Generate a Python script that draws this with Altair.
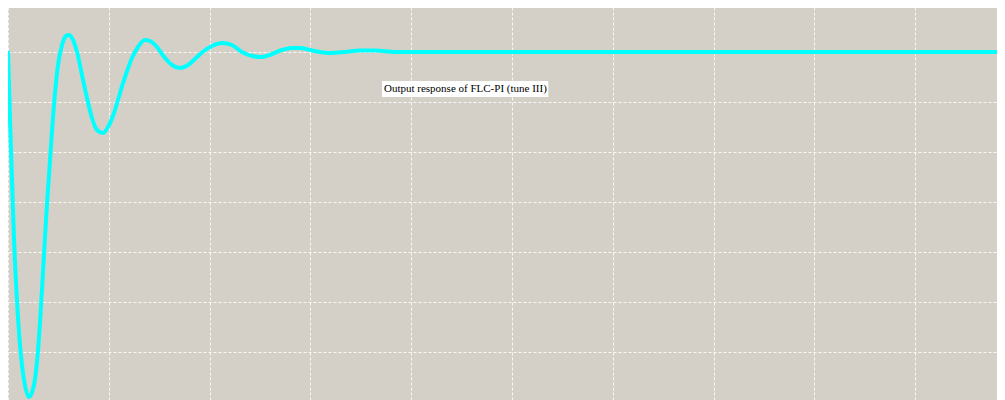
import altair as alt
import pandas as pd

# Output response (time in grid units, output value)
t = [0.0, 0.02, 0.04, 0.06, 0.089, 0.119, 0.159, 0.208, 0.258, 0.298, 0.337, 0.377,
     0.417, 0.456, 0.496, 0.536, 0.575, 0.605, 0.635, 0.685, 0.734, 0.784, 0.833,
     0.883, 0.942, 0.992, 1.052, 1.111, 1.171, 1.230, 1.290, 1.359, 1.409, 1.478,
     1.558, 1.627, 1.706, 1.786, 1.865, 1.944, 2.024, 2.123, 2.222, 2.321, 2.421,
     2.520, 2.619, 2.718, 2.817, 2.897, 2.996, 3.095, 3.194, 3.343, 3.492, 3.641,
     3.839, 4.087, 5.0, 6.0, 7.0, 8.0, 9.0, 9.9]
y = [1.004, 0.728, 0.488, 0.248, 0.008, -0.172, -0.312, -0.38, -0.332, -0.192, 0.048, 0.328,
     0.568, 0.788, 0.948, 1.028, 1.064, 1.068, 1.056, 1.0, 0.908, 0.816, 0.736,
     0.688, 0.676, 0.70, 0.756, 0.836, 0.912, 0.976, 1.02, 1.048, 1.044, 1.02,
     0.976, 0.948, 0.936, 0.948, 0.976, 1.004, 1.024, 1.036, 1.028, 1.0, 0.984,
     0.98, 0.992, 1.008, 1.016, 1.016, 1.008, 1.0, 0.996, 1.0, 1.006, 1.006,
     1.0, 1.0, 1.0, 1.0, 1.0, 1.0, 1.0, 1.0]

x_ticks = [0, 1, 2, 3, 4, 5, 6, 7, 8, 9]
y_ticks = [1.2, 1.0, 0.8, 0.6, 0.4, 0.2, 0.0, -0.2]

label_text = ["Output response of FLC-PI (tune III)"]
label_x = [3.71]
label_x2 = [5.36]
label_y = [0.884]
label_y2 = [0.82]
label_ty = [0.852]
label_tx = [3.73]

X_DOMAIN = [0, 9.8115]
Y_DOMAIN = [-0.392, 1.2]

df = pd.DataFrame({"t": t, "y": y})
lab = pd.DataFrame({"text": label_text, "x": label_x, "x2": label_x2,
                    "y": label_y, "y2": label_y2, "tx": label_tx, "ty": label_ty})

xs = alt.Scale(domain=X_DOMAIN, nice=False, zero=False)
ys = alt.Scale(domain=Y_DOMAIN, nice=False, zero=False)

grid_axis_x = alt.Axis(values=x_ticks, grid=True, labels=False, ticks=False, domain=False,
                       title=None, gridColor="#ffffff", gridDash=[3, 2], gridOpacity=0.85,
                       gridWidth=1)
grid_axis_y = alt.Axis(values=y_ticks, grid=True, labels=False, ticks=False, domain=False,
                       title=None, gridColor="#ffffff", gridDash=[3, 2], gridOpacity=0.85,
                       gridWidth=1)

line = alt.Chart(df).mark_line(color="#00ffff", strokeWidth=4, interpolate="monotone",
                               clip=True).encode(
    x=alt.X("t:Q", scale=xs, axis=grid_axis_x),
    y=alt.Y("y:Q", scale=ys, axis=grid_axis_y),
)

box = alt.Chart(lab).mark_rect(color="#ffffff").encode(
    x=alt.X("x:Q", scale=xs), x2="x2:Q",
    y=alt.Y("y:Q", scale=ys), y2="y2:Q",
)

txt = alt.Chart(lab).mark_text(align="left", baseline="middle", font="Liberation Serif",
                               fontSize=11, color="#000000").encode(
    x=alt.X("tx:Q", scale=xs),
    y=alt.Y("ty:Q", scale=ys),
    text="text:N",
)

chart = alt.layer(line, box, txt).properties(
    width=989, height=398,
    padding={"left": 0, "top": -6, "right": 0, "bottom": 0},
    background="#ffffff",
).configure_view(fill="#d4d0c8", stroke=None)

chart.save("out.html", embed_options={"renderer": "svg", "actions": False})
